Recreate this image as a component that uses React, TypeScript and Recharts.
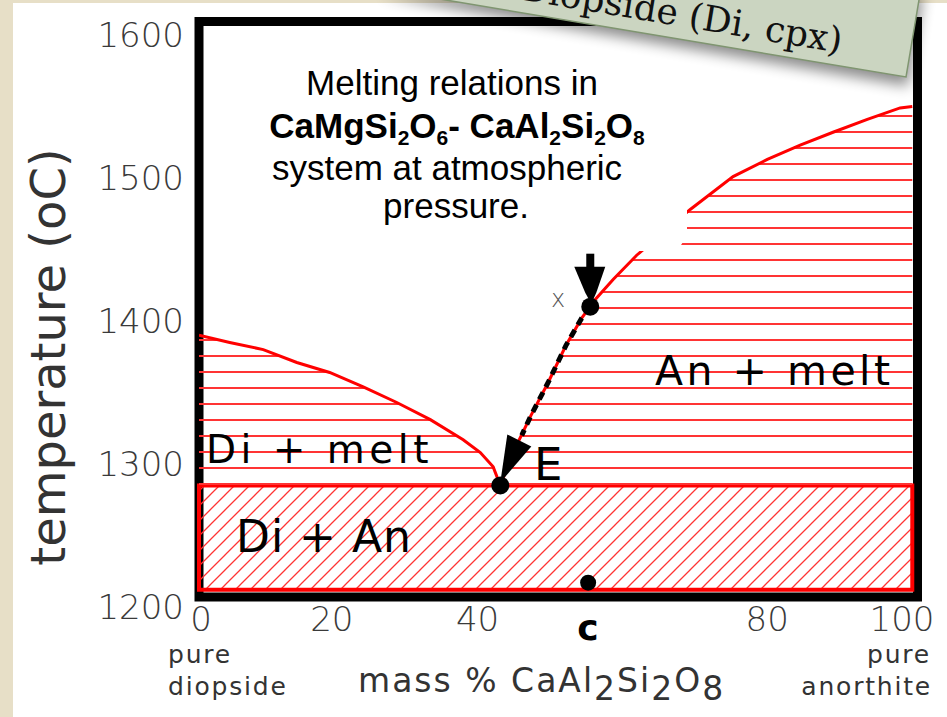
import React from "react";
import { ComposedChart, Area, Line, Scatter, XAxis, YAxis, ReferenceArea } from "recharts";

// liquidus readings: mass % CaAl2Si2O8 (p) vs temperature in °C (t)
const diLiquidus = [
  { p: 0, t: 1390 },
  { p: 4.3, t: 1385 },
  { p: 9, t: 1380 },
  { p: 13.7, t: 1371 },
  { p: 18.3, t: 1364 },
  { p: 23, t: 1354 },
  { p: 27.7, t: 1343 },
  { p: 32.4, t: 1331 },
  { p: 37, t: 1317 },
  { p: 39.4, t: 1308 },
  { p: 41.2, t: 1298 },
  { p: 42.2, t: 1285 },
];

const anLiquidus = [
  { p: 42.2, t: 1285 },
  { p: 43.8, t: 1306 },
  { p: 46.5, t: 1334 },
  { p: 48.9, t: 1357 },
  { p: 51.4, t: 1383 },
  { p: 53.6, t: 1402 },
  { p: 55.5, t: 1415 },
  { p: 58, t: 1429 },
  { p: 61.3, t: 1446 },
  { p: 68.8, t: 1478 },
  { p: 74.8, t: 1501 },
  { p: 79.6, t: 1513 },
  { p: 84.2, t: 1523 },
  { p: 88.8, t: 1532 },
  { p: 93.6, t: 1541 },
  { p: 98.2, t: 1549 },
  { p: 99.9, t: 1550 },
];

// crystallisation path from x down the An liquidus towards E
const coolingPath = [
  { p: 54.8, t: 1410 },
  { p: 53.6, t: 1402 },
  { p: 51.4, t: 1383 },
  { p: 48.9, t: 1357 },
  { p: 46.5, t: 1334 },
  { p: 45.2, t: 1320 },
];

const eutectic = { p: 42.2, t: 1285 };
const pointX = { p: 54.8, t: 1410 };
const pointC = { p: 54.5, t: 1217 };

const solidusT = 1285;
const subsolidusBottom = 1212;
const compositionEnd = 99.9;
// outer black box of the original figure
const frame = { p1: 0, p2: 100.63, t1: 1207, t2: 1609.4 };

const xTicks = [0, 20, 40, 80, 100];
const yTicks = [1200, 1300, 1400, 1500, 1600];

const liquidus = [...diLiquidus, ...anLiquidus.slice(1)];

const W = 947;
const H = 717;
const RED = "#ff0000";
const HATCH = "#ff3434";
const axisFont = "'DejaVu Sans', Verdana, sans-serif";
const titleFont = "'Liberation Sans', Arial, sans-serif";

// the original's x labels are placed slightly off the scale
const xTickShift: Record<number, number> = { 0: 2, 20: -10, 40: -7, 80: -3, 100: -11 };

const XTick = ({ x, y, payload }: any) => (
  <text
    x={x + (xTickShift[payload.value] ?? 0)}
    y={y}
    dy="0.71em"
    textAnchor="middle"
    fontSize={34}
    fontFamily={axisFont}
    fontWeight={200}
    fill="#3a3a3a"
  >
    {payload.value}
  </text>
);

const YTick = ({ x, y, payload }: any) => (
  <text x={x} y={y} dy="0.36em" textAnchor="end" fontSize={34} fontFamily={axisFont} fontWeight={200} fill="#3a3a3a">
    {payload.value}
  </text>
);

const BigDot = ({ cx, cy, payload }: any) => (
  <circle cx={cx} cy={cy} r={payload.t < 1250 ? 8 : 9} fill="#000" />
);

const DownArrow = ({ cx, cy }: any) => (
  <g fill="#000">
    <rect x={cx - 4} y={cy - 53} width={8} height={15} />
    <polygon
      points={`${cx - 16},${cy - 40} ${cx + 15},${cy - 40} ${cx + 6},${cy - 14} ${cx + 1},${cy - 3} ${cx - 5},${cy - 14}`}
    />
  </g>
);

const EArrow = ({ cx, cy }: any) => (
  <polygon points={`${cx},${cy - 3} ${cx + 7},${cy - 51} ${cx + 31},${cy - 39}`} fill="#000" />
);

const Overlay = () => (
  <svg width={W} height={H} style={{ position: "absolute", left: 0, top: 0, pointerEvents: "none" }}>
    <defs>
      <filter id="noteShadow" x="-20%" y="-60%" width="140%" height="260%">
        <feGaussianBlur stdDeviation="7" />
      </filter>
    </defs>

    {/* white text box of the title, it hides a bit of the liquidus */}
    <polygon points="240,45 687,45 687,236 677,251 240,251" fill="#fff" />

    <g fontFamily={titleFont} fontSize={35} fill="#000" textAnchor="middle">
      <text x={452} y={95}>Melting relations in</text>
      <text x={457} y={138} fontWeight="bold">
        <tspan>CaMgSi</tspan>
        <tspan fontSize={21} dy={7}>2</tspan>
        <tspan dy={-7}>O</tspan>
        <tspan fontSize={21} dy={7}>6</tspan>
        <tspan dy={-7}>- CaAl</tspan>
        <tspan fontSize={21} dy={7}>2</tspan>
        <tspan dy={-7}>Si</tspan>
        <tspan fontSize={21} dy={7}>2</tspan>
        <tspan dy={-7}>O</tspan>
        <tspan fontSize={21} dy={7}>8</tspan>
      </text>
      <text x={447} y={180}>system at atmospheric</text>
      <text x={456} y={218}>pressure.</text>
    </g>

    <g fontFamily={axisFont} fill="#000">
      <text x={206} y={463} fontSize={39} letterSpacing={4.5}>Di + melt</text>
      <text x={655} y={385} fontSize={41} letterSpacing={3.5}>An + melt</text>
      <text x={236} y={552} fontSize={44} letterSpacing={1}>Di + An</text>
      <text x={534} y={480} fontSize={45}>E</text>
      <text x={558} y={307} fontSize={24} fontWeight={200} fill="#555" textAnchor="middle">x</text>
      <text x={588} y={640} fontSize={36} fontWeight="bold" textAnchor="middle">c</text>
    </g>

    <g fontFamily={axisFont} fill="#333">
      <text x={65} y={357} fontSize={48} textAnchor="middle" transform="rotate(-90 65 357)">
        temperature (oC)
      </text>
      <text x={168} y={663} fontSize={25} letterSpacing={1.8}>pure</text>
      <text x={168} y={695} fontSize={25} letterSpacing={1.8}>diopside</text>
      <text x={931} y={663} fontSize={25} letterSpacing={1.8} textAnchor="end">pure</text>
      <text x={932} y={695} fontSize={25} letterSpacing={1.8} textAnchor="end">anorthite</text>
      <text x={358} y={692} fontSize={33} letterSpacing={2}>
        <tspan>mass % CaAl</tspan>
        <tspan dy={8}>2</tspan>
        <tspan dy={-8}>Si</tspan>
        <tspan dy={8}>2</tspan>
        <tspan dy={-8}>O</tspan>
        <tspan dy={8}>8</tspan>
      </text>
    </g>

    {/* slide note laid over the figure */}
    <polygon points="380,-4 908,86 923,-4" fill="#000" opacity={0.45} filter="url(#noteShadow)" />
    <polygon points="380,-11 906,77 921,-12" fill="#cbd5c1" stroke="#7f9570" strokeWidth={1.5} />
    <text
      x={840}
      y={53}
      transform="rotate(9.5 840 53)"
      textAnchor="end"
      fontFamily="'DejaVu Serif', serif"
      fontSize={36}
      fill="#111"
    >
      Diopside (Di, cpx)
    </text>
  </svg>
);

export default function App() {
  return (
    <div style={{ position: "absolute", left: 0, top: 0, width: W, height: H, background: "#e7dfc7", overflow: "hidden" }}>
      <div style={{ position: "absolute", left: 13, top: 3, right: 0, bottom: 0, background: "#fff" }} />
      <div style={{ position: "absolute", left: 0, top: 0 }}>
        <ComposedChart width={W} height={H} data={liquidus} margin={{ top: 35, right: 34, bottom: 70, left: 0 }}>
          <defs>
            <pattern id="hHatch" patternUnits="userSpaceOnUse" width="16" height="16">
              <rect x="0" y="3" width="16" height="2" fill={HATCH} />
            </pattern>
            <pattern id="dHatch" patternUnits="userSpaceOnUse" width="15" height="15">
              <path d="M0,15 L15,0 M-2,2 L2,-2 M13,17 L17,13" stroke={HATCH} strokeWidth={1.3} />
            </pattern>
          </defs>
          <XAxis
            type="number"
            dataKey="p"
            domain={[0, 100]}
            ticks={xTicks}
            allowDataOverflow
            axisLine={false}
            tickLine={false}
            tickSize={0}
            tickMargin={0}
            height={40}
            tick={<XTick />}
          />
          <YAxis
            type="number"
            domain={[1200, 1600]}
            ticks={yTicks}
            allowDataOverflow
            axisLine={false}
            tickLine={false}
            tickSize={0}
            tickMargin={15}
            width={199}
            tick={<YTick />}
          />
          <ReferenceArea
            x1={frame.p1}
            x2={frame.p2}
            y1={frame.t1}
            y2={frame.t2}
            ifOverflow="visible"
            fill="none"
            fillOpacity={0}
            stroke="#000"
            strokeWidth={9}
          />
          <ReferenceArea
            x1={0}
            x2={compositionEnd}
            y1={subsolidusBottom}
            y2={solidusT}
            ifOverflow="visible"
            fill="url(#dHatch)"
            fillOpacity={1}
            stroke={RED}
            strokeWidth={4}
          />
          <Area
            type="linear"
            dataKey="t"
            baseValue={solidusT}
            stroke={RED}
            strokeWidth={3}
            fill="url(#hHatch)"
            fillOpacity={1}
            dot={false}
            activeDot={false}
            isAnimationActive={false}
          />
          <Line
            data={coolingPath}
            type="linear"
            dataKey="t"
            stroke="#000"
            strokeWidth={5}
            strokeDasharray="8 6"
            dot={false}
            activeDot={false}
            isAnimationActive={false}
          />
          <Scatter data={[pointX]} dataKey="t" shape={<DownArrow />} isAnimationActive={false} />
          <Scatter data={[eutectic]} dataKey="t" shape={<EArrow />} isAnimationActive={false} />
          <Scatter data={[eutectic, pointX, pointC]} dataKey="t" shape={<BigDot />} isAnimationActive={false} />
        </ComposedChart>
      </div>
      <Overlay />
    </div>
  );
}
